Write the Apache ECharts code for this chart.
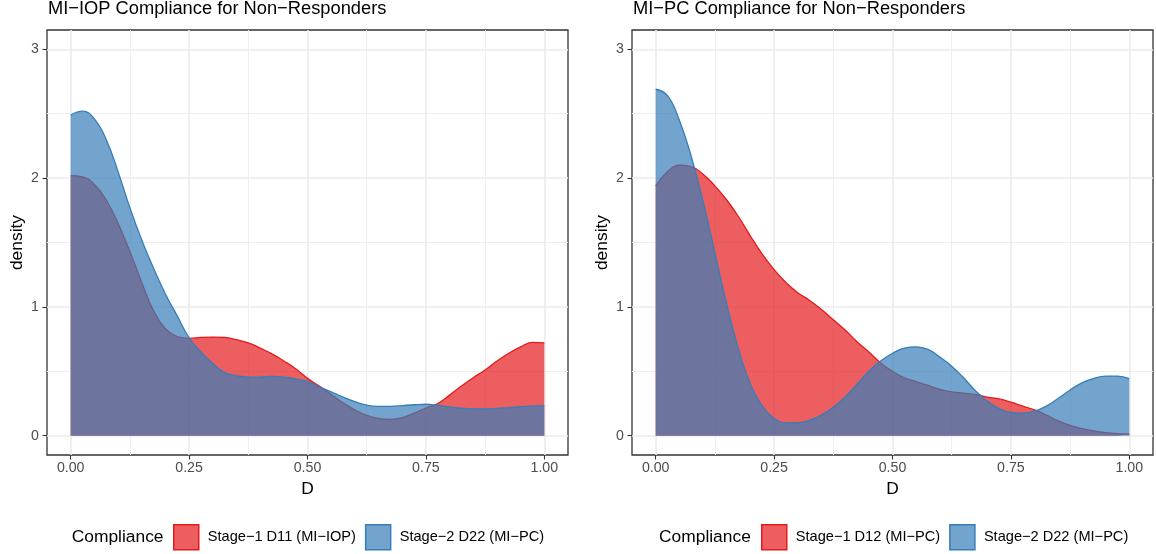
<!DOCTYPE html>
<html><head><meta charset="utf-8">
<script src="https://cdn.jsdelivr.net/npm/echarts@6/dist/echarts.min.js"></script>
<style>html,body{margin:0;padding:0;background:#fff}#c{width:1156px;height:554px}</style>
</head><body><div id="c"></div>
<script>
// x positions of the density estimates (D)
const D = [0,0.025,0.05,0.075,0.1,0.125,0.15,0.175,0.2,0.225,0.25,0.275,0.3,0.325,0.35,0.375,0.4,0.425,0.45,0.475,0.5,
           0.525,0.55,0.575,0.6,0.625,0.65,0.675,0.7,0.725,0.75,0.775,0.8,0.825,0.85,0.875,0.9,0.925,0.95,0.975,1];
// Left panel: MI-IOP
const iopStage1 = [2.02,2.01,1.95,1.83,1.65,1.43,1.19,0.97,0.83,0.77,0.756,0.763,0.766,0.763,0.745,0.72,0.68,0.635,0.58,0.52,0.445,
                   0.385,0.32,0.255,0.2,0.158,0.135,0.127,0.14,0.175,0.215,0.25,0.315,0.385,0.45,0.51,0.58,0.64,0.69,0.725,0.72];
const iopStage2 = [2.49,2.52,2.46,2.30,2.05,1.77,1.52,1.30,1.10,0.93,0.76,0.65,0.56,0.49,0.465,0.455,0.455,0.46,0.455,0.44,0.42,
                   0.38,0.34,0.30,0.265,0.238,0.228,0.228,0.234,0.24,0.244,0.235,0.223,0.213,0.208,0.207,0.212,0.218,0.225,0.23,0.233];
// Right panel: MI-PC
const pcStage1 = [1.94,2.05,2.10,2.09,2.03,1.94,1.83,1.70,1.55,1.41,1.29,1.19,1.11,1.05,0.98,0.90,0.82,0.73,0.65,0.565,0.50,
                  0.45,0.42,0.39,0.36,0.34,0.33,0.32,0.30,0.285,0.26,0.23,0.20,0.16,0.115,0.08,0.055,0.037,0.024,0.016,0.011];
const pcStage2 = [2.69,2.64,2.45,2.17,1.82,1.42,1.02,0.67,0.40,0.23,0.135,0.10,0.10,0.12,0.16,0.22,0.30,0.40,0.50,0.58,0.64,
                  0.68,0.69,0.67,0.61,0.54,0.45,0.35,0.27,0.21,0.18,0.175,0.19,0.23,0.29,0.355,0.41,0.445,0.463,0.463,0.443];

const xTicks = [0,0.25,0.5,0.75,1];
const xMinor = [0.125,0.375,0.625,0.875];
const yTicks = [0,1,2,3];
const yMinor = [0.5,1.5,2.5];
const titles = ['MI\u2212IOP Compliance for Non\u2212Responders','MI\u2212PC Compliance for Non\u2212Responders'];
const names = [['Stage\u22121 D11 (MI\u2212IOP)','Stage\u22122 D22 (MI\u2212PC)'],['Stage\u22121 D12 (MI\u2212PC)','Stage\u22122 D22 (MI\u2212PC)']];
const panelData = [[iopStage1, iopStage2],[pcStage1, pcStage2]];
const RED = '#E41A1C', BLUE = '#377EB8';
const FONT = "'Liberation Sans', Arial, Helvetica, sans-serif";

const chart = echarts.init(document.getElementById('c'), null, {renderer:'canvas'});
const gridLefts = [47, 632];
const grids = [], xAxes = [], yAxes = [], series = [], titleArr = [], legends = [];
const legendLefts = [173, 761];
const legendTitleLefts = [71.7, 659];

gridLefts.forEach((gl, g) => {
  grids.push({left: gl, top: 30, width: 521, height: 425, show: true, borderColor: '#333333', borderWidth: 1.3, backgroundColor: '#fff', containLabel: false});
  xAxes.push({
    gridIndex: g, type: 'value', min: -0.05, max: 1.05, position: 'bottom',
    axisLine: {show: false, onZero: false},
    axisTick: {show: true, customValues: xTicks, length: 4.5, lineStyle: {color: '#333333', width: 1.1}},
    axisLabel: {customValues: xTicks, formatter: v => v.toFixed(2), color: '#4d4d4d', fontSize: 14.2, margin: 6, fontFamily: FONT},
    splitLine: {show: true, lineStyle: {color: '#ebebeb', width: 1.6}},
    name: 'D', nameLocation: 'middle', nameGap: 26,
    nameTextStyle: {fontSize: 17.4, color: '#000', fontFamily: FONT}
  });
  xAxes.push({
    gridIndex: g, type: 'value', min: -0.05, max: 1.05, position: 'bottom',
    axisLine: {show: false, onZero: false},
    axisTick: {show: false, customValues: xMinor},
    axisLabel: {show: false, customValues: xMinor},
    splitLine: {show: true, lineStyle: {color: '#efefef', width: 1}}
  });
  yAxes.push({
    gridIndex: g, type: 'value', min: -0.15, max: 3.15, position: 'left',
    axisLine: {show: false, onZero: false},
    axisTick: {show: true, customValues: yTicks, length: 4.5, lineStyle: {color: '#333333', width: 1.1}},
    axisLabel: {customValues: yTicks, color: '#4d4d4d', fontSize: 14.2, margin: 8, fontFamily: FONT},
    splitLine: {show: true, lineStyle: {color: '#ebebeb', width: 1.6}},
    name: 'density', nameLocation: 'middle', nameGap: 21, nameRotate: 90,
    nameTextStyle: {fontSize: 17.4, color: '#000', fontFamily: FONT}
  });
  yAxes.push({
    gridIndex: g, type: 'value', min: -0.15, max: 3.15, position: 'right',
    axisLine: {show: false, onZero: false},
    axisTick: {show: false, customValues: yMinor},
    axisLabel: {show: false, customValues: yMinor},
    splitLine: {show: true, lineStyle: {color: '#efefef', width: 1}}
  });
  const cols = [RED, BLUE];
  panelData[g].forEach((arr, k) => {
    series.push({
      type: 'line', name: names[g][k], xAxisIndex: g*2, yAxisIndex: g*2,
      data: D.map((x, i) => [x, arr[i]]),
      smooth: 0.45, showSymbol: false, symbol: 'none',
      lineStyle: {color: cols[k], width: 1.3},
      itemStyle: {color: cols[k]},
      areaStyle: {color: cols[k], opacity: 0.7},
      z: 2 + k, silent: true, animation: false
    });
  });
  titleArr.push({text: titles[g], left: gl + 1, top: 0, padding: 0,
    textStyle: {fontSize: 18.3, fontWeight: 'normal', color: '#000', fontFamily: FONT}});
  titleArr.push({text: 'Compliance', left: legendTitleLefts[g], top: 528.5, padding: 0,
    textStyle: {fontSize: 17.4, fontWeight: 'normal', color: '#000', fontFamily: FONT}});
  legends.push({
    left: legendLefts[g], top: 524, padding: 0, orient: 'horizontal',
    itemWidth: 25, itemHeight: 25, itemGap: 9, icon: 'rect', selectedMode: false,
    textStyle: {fontSize: 14.6, color: '#000', fontFamily: FONT, padding: [0, 0, 0, 4]},
    data: [
      {name: names[g][0], icon: 'rect', itemStyle: {color: 'rgba(228,26,28,0.7)', borderColor: RED, borderWidth: 1.5}},
      {name: names[g][1], icon: 'rect', itemStyle: {color: 'rgba(55,126,184,0.7)', borderColor: BLUE, borderWidth: 1.5}}
    ]
  });
});

chart.setOption({
  animation: false,
  backgroundColor: '#fff',
  textStyle: {fontFamily: FONT},
  title: titleArr,
  legend: legends,
  grid: grids,
  xAxis: xAxes,
  yAxis: yAxes,
  series: series
});
</script></body></html>
